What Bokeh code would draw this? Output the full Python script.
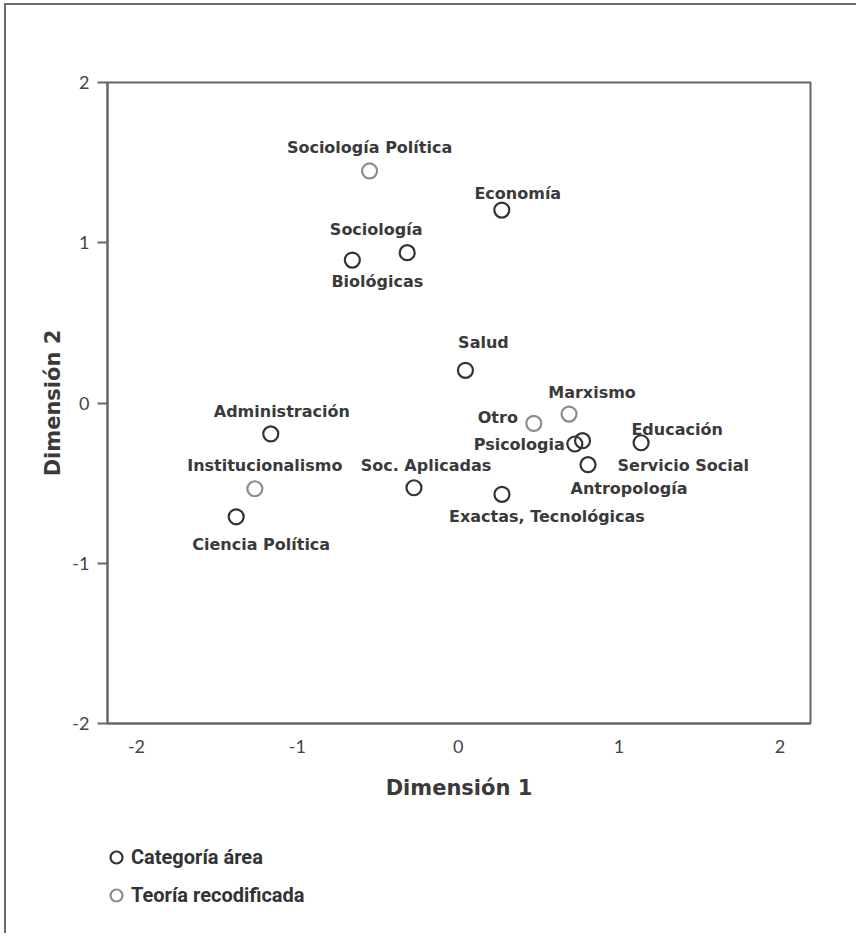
from bokeh.plotting import figure
from bokeh.layouts import column
from bokeh.models import Range1d, Legend, LegendItem, ColumnDataSource, FixedTicker
from bokeh.embed import file_html
from bokeh.resources import INLINE
from bokeh.core.properties import value

# ---- data -------------------------------------------------------------
area_names = ["Economía", "Sociología", "Biológicas", "Salud", "Psicologia",
              "Servicio Social", "Educación", "Antropología", "Soc. Aplicadas",
              "Administración", "Ciencia Política", "Exactas, Tecnológicas"]
area_dim1 = [0.271, -0.317, -0.658, 0.045, 0.725, 0.773, 1.137, 0.807,
             -0.275, -1.165, -1.380, 0.272]
area_dim2 = [1.204, 0.938, 0.892, 0.204, -0.256, -0.235, -0.248, -0.385,
             -0.529, -0.193, -0.710, -0.570]

teoria_names = ["Sociología Política", "Marxismo", "Otro", "Institucionalismo"]
teoria_dim1 = [-0.551, 0.689, 0.470, -1.264]
teoria_dim2 = [1.448, -0.069, -0.127, -0.535]

tick_values = [-2, -1, 0, 1, 2]
tick_labels = ["-2", "-1", "0", "1", "2"]
legend_labels = ["Categoría área", "Teoría recodificada"]

# ---- label placement (pixels) -----------------------------------------
area_dx = [16, -31, 25, 18, -10, 35, 36, 41, 12, 11, 25, 45]
area_dy = [-17, -23, 21, -28, 0, 25, -13, 24, -22, -22, 28, 22]
area_align = ["center", "center", "center", "center", "right", "left",
              "center", "center", "center", "center", "center", "center"]
teoria_dx = [0, 23, -36, 10]
teoria_dy = [-23, -22, -6, -23]
teoria_align = ["center", "center", "center", "center"]

BLACK = "#333333"
GRAY = "#8c8c8c"
AXIS = "#666666"
LABEL_FONT = "DejaVu Sans"

p = figure(width=850, height=818, output_backend="svg", toolbar_location=None,
           x_range=Range1d(-2.18, 2.19), y_range=Range1d(-2, 2),
           min_border_left=101, min_border_top=77, min_border_right=46,
           min_border_bottom=100)

p.xgrid.visible = False
p.ygrid.visible = False
p.outline_line_color = AXIS
p.outline_line_width = 2
p.outline_line_alpha = 1

overrides = {v: t for v, t in zip(tick_values, tick_labels)}
for ax in (p.xaxis[0], p.yaxis[0]):
    ax.ticker = FixedTicker(ticks=tick_values)
    ax.major_label_overrides = overrides
    ax.axis_line_color = AXIS
    ax.axis_line_width = 2
    ax.minor_tick_line_color = None
    ax.major_label_text_font = "Lato"
    ax.major_label_text_font_size = "18px"
    ax.major_label_text_color = "#444444"
    ax.axis_label_text_font = LABEL_FONT
    ax.axis_label_text_font_style = "bold"
    ax.axis_label_text_font_size = "21px"
    ax.axis_label_text_color = "#3a3a3a"

p.xaxis.axis_label = "Dimensión 1"
p.yaxis.axis_label = "Dimensión 2"
p.xaxis.major_tick_line_color = None
p.xaxis.major_tick_out = 0
p.xaxis.major_tick_in = 0
p.xaxis.major_label_standoff = 16
p.xaxis.axis_label_standoff = 20
p.yaxis.major_tick_line_color = AXIS
p.yaxis.major_tick_line_width = 2
p.yaxis.major_tick_out = 10
p.yaxis.major_tick_in = 0
p.yaxis.major_label_standoff = 8
p.yaxis.axis_label_standoff = 4

area_src = ColumnDataSource(dict(x=area_dim1, y=area_dim2, name=area_names,
                                 dx=area_dx, dy=area_dy, align=area_align))
teoria_src = ColumnDataSource(dict(x=teoria_dim1, y=teoria_dim2, name=teoria_names,
                                   dx=teoria_dx, dy=teoria_dy, align=teoria_align))

p.scatter("x", "y", source=area_src, marker="circle", size=15,
          fill_color=None, line_color=BLACK, line_width=2.2)
p.scatter("x", "y", source=teoria_src, marker="circle", size=15,
          fill_color=None, line_color=GRAY, line_width=2.2)

for src in (area_src, teoria_src):
    p.text("x", "y", text="name", source=src, x_offset="dx", y_offset="dy",
           text_align="align", text_baseline="middle",
           text_font=value(LABEL_FONT), text_font_style="bold",
           text_font_size="16px", text_color="#3a3a3a")

# ---- legend strip below the chart -------------------------------------
# ranges far from the data, so the proxy renderers only draw legend glyphs
pl = figure(width=850, height=110, output_backend="svg", toolbar_location=None,
            x_range=Range1d(100, 101), y_range=Range1d(100, 101),
            min_border=0, min_border_left=0, min_border_right=0,
            min_border_top=0, min_border_bottom=0,
            x_axis_type=None, y_axis_type=None)
pl.xgrid.visible = False
pl.ygrid.visible = False
pl.outline_line_color = None

proxy_a = pl.scatter("x", "y", source=area_src, marker="circle", fill_color=None,
                     line_color=BLACK, line_width=2.2)
proxy_t = pl.scatter("x", "y", source=teoria_src, marker="circle", fill_color=None,
                     line_color=GRAY, line_width=2.2)

legend = Legend(items=[LegendItem(label=legend_labels[0], renderers=[proxy_a]),
                       LegendItem(label=legend_labels[1], renderers=[proxy_t])],
                location=(-6, 22), orientation="vertical",
                border_line_color=None, background_fill_alpha=0,
                padding=0, margin=0, spacing=6,
                glyph_width=30, glyph_height=32, label_height=16,
                label_standoff=0,
                label_text_font="Roboto", label_text_font_style="bold",
                label_text_font_size="20px", label_text_color="#333333")
pl.add_layout(legend, "center")

layout = column(p, pl, spacing=0)
layout.styles = {"border-left": "2px solid #6b6b6b", "border-top": "2px solid #6b6b6b",
                 "margin-left": "4px", "margin-top": "3px"}

open("out.html", "w").write(file_html(layout, INLINE))
